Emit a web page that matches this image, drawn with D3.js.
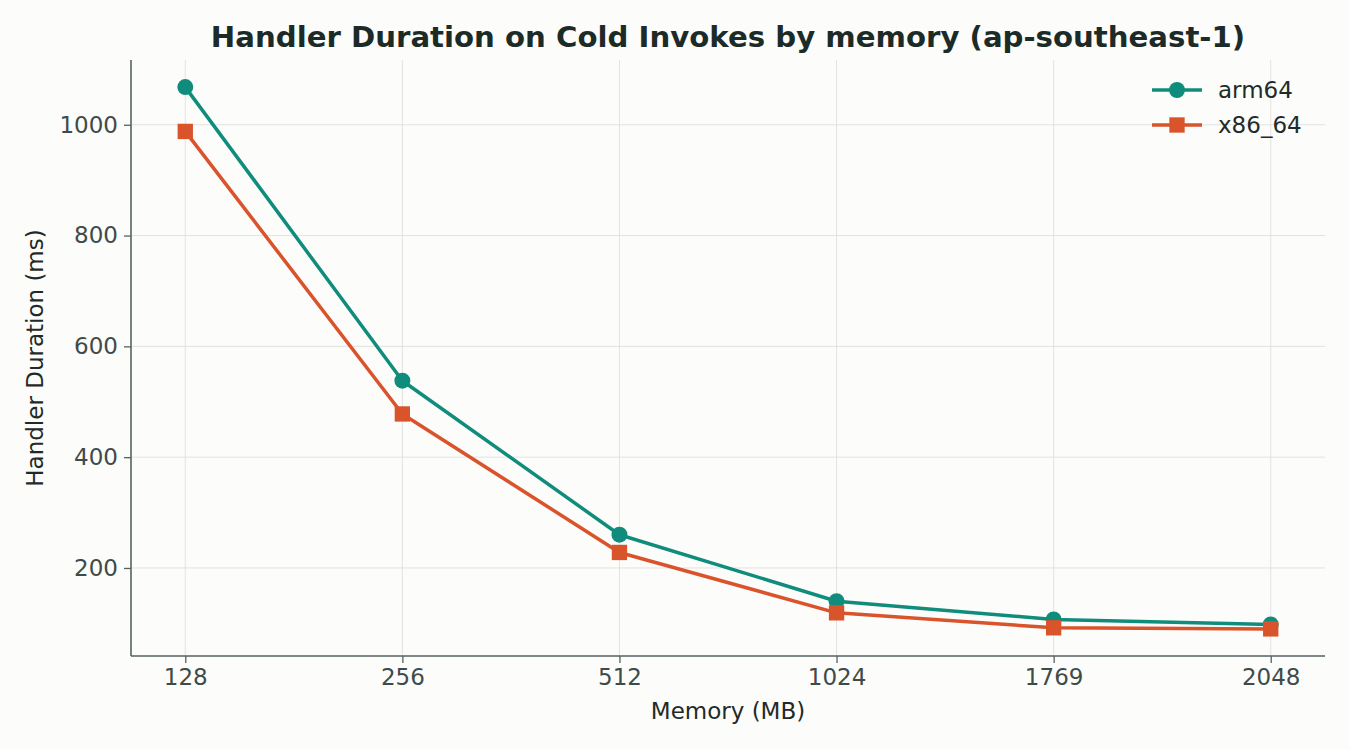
<!DOCTYPE html>
<html>
<head>
<meta charset="utf-8">
<script src="https://cdn.jsdelivr.net/npm/d3@7"></script>
<style>
  html, body { margin: 0; padding: 0; background: #fcfcfa; }
  svg { display: block; font-family: "DejaVu Sans", sans-serif; }
</style>
</head>
<body>
<div id="chart"></div>
<script>
// --- Data ---
const memorySizes = ["128", "256", "512", "1024", "1769", "2048"];
const arm64Values = [1068, 538, 260, 140, 107, 98];
const x86Values = [988, 478, 228, 119, 92, 90];
const yTicks = [200, 400, 600, 800, 1000];

const series = [
    { name: "arm64", values: arm64Values, color: "#108c7c", symbol: "circle" },
    { name: "x86_64", values: x86Values, color: "#d9532b", symbol: "square" }
];

// --- Layout ---
const width = 1350, height = 750;
const margin = { top: 60, right: 25, bottom: 94, left: 131 };
const innerW = width - margin.left - margin.right;
const innerH = height - margin.top - margin.bottom;
const fontSize = "23px";

const svg = d3.select("#chart")
    .append("svg")
    .attr("width", width)
    .attr("height", height);

svg.append("rect")
    .attr("width", width)
    .attr("height", height)
    .attr("fill", "#fcfcfa");

const g = svg.append("g")
    .attr("transform", `translate(${margin.left},${margin.top})`);

// --- Scales (5% padding like the source) ---
const allValues = arm64Values.concat(x86Values);
const yMin = d3.min(allValues), yMax = d3.max(allValues);
const pad = (yMax - yMin) * 0.05;

const x = d3.scalePoint()
    .domain(memorySizes)
    .range([0, innerW])
    .padding(0.25);

const y = d3.scaleLinear()
    .domain([yMin - pad, yMax + pad])
    .range([innerH, 0]);

// --- Grid ---
g.append("g")
    .selectAll("line")
    .data(yTicks)
    .enter()
    .append("line")
    .attr("x1", 0)
    .attr("x2", innerW)
    .attr("y1", d => y(d))
    .attr("y2", d => y(d))
    .attr("stroke", "#dcdcdc")
    .attr("stroke-width", 1)
    .attr("stroke-opacity", 0.8);

g.append("g")
    .selectAll("line")
    .data(memorySizes)
    .enter()
    .append("line")
    .attr("x1", d => x(d))
    .attr("x2", d => x(d))
    .attr("y1", 0)
    .attr("y2", innerH)
    .attr("stroke", "#dcdcdc")
    .attr("stroke-width", 1)
    .attr("stroke-opacity", 0.8);

// --- Axes ---
const axisColor = "#56625f";
const tickTextColor = "#3f4b49";

const xAxis = g.append("g")
    .attr("transform", `translate(0,${innerH})`)
    .call(d3.axisBottom(x).tickSize(7).tickPadding(6).tickSizeOuter(0));

const yAxis = g.append("g")
    .call(d3.axisLeft(y).tickValues(yTicks).tickFormat(d3.format("d"))
        .tickSize(7).tickPadding(6).tickSizeOuter(0));

[xAxis, yAxis].forEach(ax => {
    ax.select(".domain").attr("stroke", axisColor).attr("stroke-width", 1.6);
    ax.selectAll(".tick line").attr("stroke", axisColor).attr("stroke-width", 1.3);
    ax.selectAll(".tick text")
        .attr("fill", tickTextColor)
        .style("font-size", fontSize)
        .style("font-family", "DejaVu Sans, sans-serif");
});

// spines span the whole plot area
xAxis.select(".domain").attr("d", `M0,0H${innerW}`);
yAxis.select(".domain").attr("d", `M0,${innerH}V0`);

// --- Lines & markers ---
const line = d3.line()
    .x((d, i) => x(memorySizes[i]))
    .y(d => y(d));

series.forEach(s => {
    g.append("path")
        .datum(s.values)
        .attr("fill", "none")
        .attr("stroke", s.color)
        .attr("stroke-width", 3.5)
        .attr("stroke-linejoin", "round")
        .attr("d", line);

    const sym = s.symbol === "circle" ? d3.symbolCircle : d3.symbolSquare;
    g.append("g")
        .selectAll("path")
        .data(s.values)
        .enter()
        .append("path")
        .attr("transform", (d, i) => `translate(${x(memorySizes[i])},${y(d)})`)
        .attr("d", d3.symbol().type(sym).size(s.symbol === "circle" ? 200 : 235))
        .attr("fill", s.color);
});

// --- Legend ---
const legend = svg.append("g")
    .attr("transform", "translate(1152,90)");

series.forEach((s, i) => {
    const row = legend.append("g").attr("transform", `translate(0,${i * 35})`);
    row.append("line")
        .attr("x1", 0).attr("x2", 50)
        .attr("stroke", s.color)
        .attr("stroke-width", 3.5);
    const sym = s.symbol === "circle" ? d3.symbolCircle : d3.symbolSquare;
    row.append("path")
        .attr("transform", "translate(25,0)")
        .attr("d", d3.symbol().type(sym).size(s.symbol === "circle" ? 200 : 235))
        .attr("fill", s.color);
    row.append("text")
        .attr("x", 66)
        .attr("y", 8)
        .attr("fill", "#1f2b29")
        .style("font-size", fontSize)
        .text(s.name);
});

// --- Titles ---
svg.append("text")
    .attr("x", margin.left + innerW / 2)
    .attr("y", 47)
    .attr("text-anchor", "middle")
    .attr("fill", "#1c2b27")
    .style("font-size", "29.2px")
    .style("font-weight", "bold")
    .text("Handler Duration on Cold Invokes by memory (ap-southeast-1)");

svg.append("text")
    .attr("x", margin.left + innerW / 2)
    .attr("y", 719)
    .attr("text-anchor", "middle")
    .attr("fill", "#1f2b29")
    .style("font-size", fontSize)
    .text("Memory (MB)");

svg.append("text")
    .attr("transform", `translate(43,${margin.top + innerH / 2}) rotate(-90)`)
    .attr("text-anchor", "middle")
    .attr("fill", "#1f2b29")
    .style("font-size", fontSize)
    .text("Handler Duration (ms)");
</script>
</body>
</html>
